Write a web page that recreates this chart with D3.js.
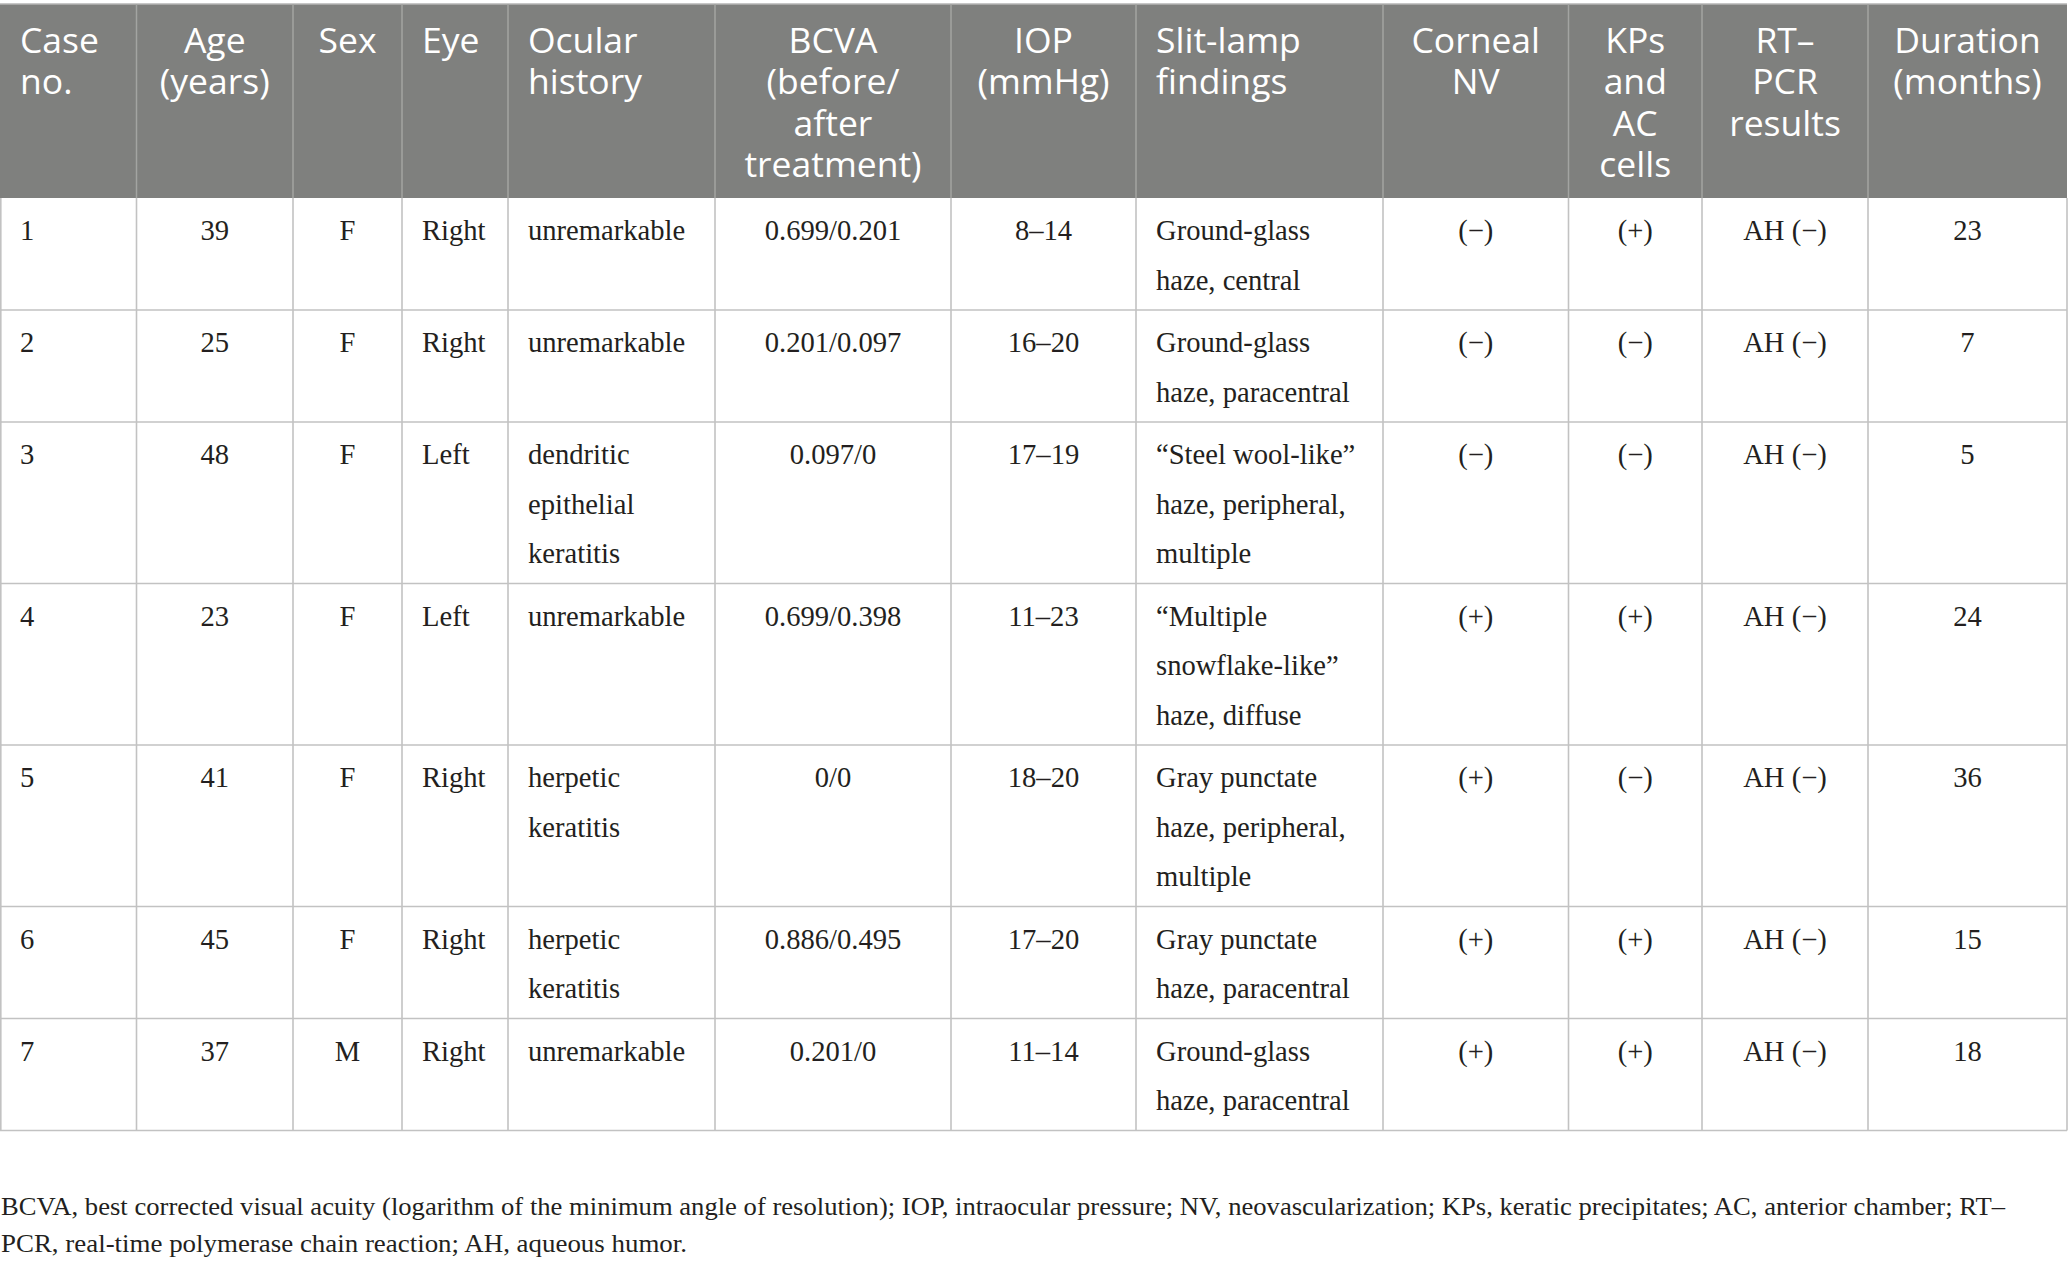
<!DOCTYPE html>
<html>
<head>
<meta charset="utf-8">
<script src="https://d3js.org/d3.v7.min.js"></script>
<style>
  body { margin: 0; background: #fff; }
  .head text { font-family: "Open Sans", sans-serif; font-size: 35.5px; fill: #fff; }
  .cell text { font-family: "Liberation Serif", serif; font-size: 28.6px; fill: #231f20; }
  .note { font-family: "Liberation Serif", serif; font-size: 25px; fill: #231f20; }
</style>
</head>
<body>
<script>
// table content, one array per column
var headers = ["Case\nno.", "Age\n(years)", "Sex", "Eye", "Ocular\nhistory",
  "BCVA\n(before/\nafter\ntreatment)", "IOP\n(mmHg)", "Slit-lamp\nfindings",
  "Corneal\nNV", "KPs\nand\nAC\ncells", "RT–\nPCR\nresults", "Duration\n(months)"];

var caseNo = ["1", "2", "3", "4", "5", "6", "7"];
var age = ["39", "25", "48", "23", "41", "45", "37"];
var sex = ["F", "F", "F", "F", "F", "F", "M"];
var eye = ["Right", "Right", "Left", "Left", "Right", "Right", "Right"];
var ocularHistory = ["unremarkable", "unremarkable", "dendritic\nepithelial\nkeratitis",
  "unremarkable", "herpetic\nkeratitis", "herpetic\nkeratitis", "unremarkable"];
var bcva = ["0.699/0.201", "0.201/0.097", "0.097/0", "0.699/0.398", "0/0", "0.886/0.495", "0.201/0"];
var iop = ["8–14", "16–20", "17–19", "11–23", "18–20", "17–20", "11–14"];
var slitLamp = ["Ground-glass\nhaze, central", "Ground-glass\nhaze, paracentral",
  "“Steel wool-like”\nhaze, peripheral,\nmultiple", "“Multiple\nsnowflake-like”\nhaze, diffuse",
  "Gray punctate\nhaze, peripheral,\nmultiple", "Gray punctate\nhaze, paracentral",
  "Ground-glass\nhaze, paracentral"];
var cornealNV = ["(−)", "(−)", "(−)", "(+)", "(+)", "(+)", "(+)"];
var kpsAC = ["(+)", "(−)", "(−)", "(+)", "(−)", "(+)", "(+)"];
var rtPcr = ["AH (−)", "AH (−)", "AH (−)", "AH (−)", "AH (−)", "AH (−)", "AH (−)"];
var duration = ["23", "7", "5", "24", "36", "15", "18"];

var footnote = [
  "BCVA, best corrected visual acuity (logarithm of the minimum angle of resolution); IOP, intraocular pressure; NV, neovascularization; KPs, keratic precipitates; AC, anterior chamber; RT–",
  "PCR, real-time polymerase chain reaction; AH, aqueous humor."
];

// layout
var W = 2068, H = 1267;
var colEdges = [0, 136.5, 293, 402, 508, 715, 951, 1136, 1383, 1568.5, 1702, 1868, 2067];
var centered = [false, true, true, false, false, true, true, false, true, true, true, true];
var headTop = 4, headBottom = 198, pad = 20;
var lineGap = 49.5, firstBase = 42;
var noteWidths = [2004, 686];

var columns = [caseNo, age, sex, eye, ocularHistory, bcva, iop, slitLamp, cornealNV, kpsAC, rtPcr, duration];
var rows = caseNo.map(function(d, i) {
  return columns.map(function(c) { return c[i].split("\n"); });
});
var rowH = rows.map(function(r) {
  var n = d3.max(r, function(c) { return c.length; });
  return 62.5 + lineGap * (n - 1);
});
var rowY = [headBottom].concat(Array.from(d3.cumsum(rowH), function(v) { return headBottom + v; }));

function textX(j) {
  return centered[j] ? (colEdges[j] + colEdges[j + 1]) / 2 : colEdges[j] + pad;
}

var svg = d3.select("body").append("svg")
  .attr("width", W)
  .attr("height", H);

// header
var head = svg.append("g").attr("class", "head");
head.append("rect")
  .attr("x", 0).attr("y", headTop)
  .attr("width", colEdges[12]).attr("height", headBottom - headTop)
  .attr("fill", "#7f807e");
head.append("line")
  .attr("x1", 0).attr("x2", colEdges[12])
  .attr("y1", headTop).attr("y2", headTop)
  .attr("stroke", "#b5b5b5").attr("stroke-width", 1.5);
head.selectAll("line.v")
  .data(colEdges.slice(1, -1))
  .enter().append("line")
  .attr("class", "v")
  .attr("x1", function(d) { return d; }).attr("x2", function(d) { return d; })
  .attr("y1", headTop).attr("y2", headBottom)
  .attr("stroke", "#a3a4a2").attr("stroke-width", 1.5);
head.selectAll("text")
  .data(headers)
  .enter().append("text")
  .attr("text-anchor", function(d, j) { return centered[j] ? "middle" : "start"; })
  .each(function(d, j) {
    d3.select(this).selectAll("tspan")
      .data(d.split("\n"))
      .enter().append("tspan")
      .attr("x", textX(j))
      .attr("y", function(t, k) { return 53 + 41.4 * k; })
      .text(function(t) { return t; });
  });

// body grid
var grid = svg.append("g");
grid.selectAll("line.h")
  .data(rowY.slice(1))
  .enter().append("line")
  .attr("x1", 0).attr("x2", colEdges[12])
  .attr("y1", function(d) { return d; }).attr("y2", function(d) { return d; })
  .attr("stroke", "#c2c2c2").attr("stroke-width", 1.6);
grid.selectAll("line.v")
  .data(colEdges)
  .enter().append("line")
  .attr("x1", function(d) { return d === 0 ? 0.8 : d; })
  .attr("x2", function(d) { return d === 0 ? 0.8 : d; })
  .attr("y1", headBottom).attr("y2", rowY[rowY.length - 1])
  .attr("stroke", "#c2c2c2").attr("stroke-width", 1.6);

// body cells
var body = svg.append("g").attr("class", "cell");
rows.forEach(function(r, i) {
  body.selectAll("text.r" + i)
    .data(r)
    .enter().append("text")
    .attr("class", "r" + i)
    .attr("text-anchor", function(d, j) { return centered[j] ? "middle" : "start"; })
    .each(function(d, j) {
      d3.select(this).selectAll("tspan")
        .data(d)
        .enter().append("tspan")
        .attr("x", textX(j))
        .attr("y", function(t, k) { return rowY[i] + firstBase + lineGap * k; })
        .text(function(t) { return t; });
    });
});

// footnote, stretched to the width of the original lines
svg.selectAll("text.note")
  .data(footnote)
  .enter().append("text")
  .attr("class", "note")
  .attr("x", 1)
  .attr("y", function(d, i) { return 1215 + 37 * i; })
  .attr("textLength", function(d, i) { return noteWidths[i]; })
  .attr("lengthAdjust", "spacingAndGlyphs")
  .text(function(d) { return d; });
</script>
</body>
</html>
